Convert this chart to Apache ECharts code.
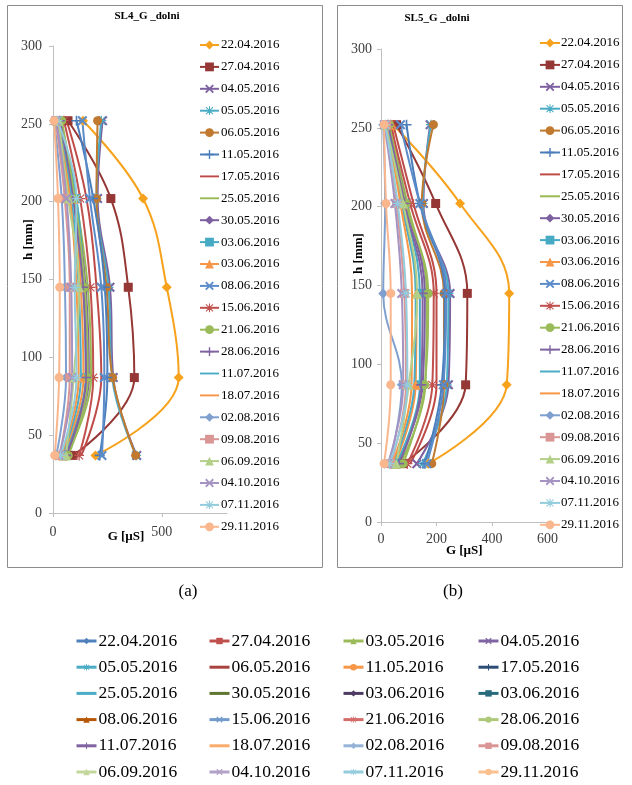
<!DOCTYPE html>
<html>
<head>
<meta charset="utf-8">
<script src="https://cdn.jsdelivr.net/npm/echarts@6/dist/echarts.min.js"></script>
<style>
html,body{margin:0;padding:0;background:#fff}
#c{width:632px;height:785px}
</style>
</head>
<body>
<div id="c"></div>
<script>
var FONT = 'Liberation Serif';

// depth of the measuring points [mm]
var H_MM = [37, 87, 145, 202, 252];

// dates in the legends inside the two charts
var DATES_IN = ['22.04.2016','27.04.2016','04.05.2016','05.05.2016','06.05.2016','11.05.2016','17.05.2016','25.05.2016','30.05.2016','03.06.2016','03.06.2016','08.06.2016','15.06.2016','21.06.2016','28.06.2016','11.07.2016','18.07.2016','02.08.2016','09.08.2016','06.09.2016','04.10.2016','07.11.2016','29.11.2016'];

// dates in the common legend under the charts
var DATES_ALL = ['22.04.2016','27.04.2016','03.05.2016','04.05.2016','05.05.2016','06.05.2016','11.05.2016','17.05.2016','25.05.2016','30.05.2016','03.06.2016','03.06.2016','08.06.2016','15.06.2016','21.06.2016','28.06.2016','11.07.2016','18.07.2016','02.08.2016','09.08.2016','06.09.2016','04.10.2016','07.11.2016','29.11.2016'];

// G [uS] at H_MM, one row per date of DATES_IN  -- SL4 (a)
var G_SL4 = [
  [195, 578, 523, 414, 138],
  [92, 374, 346, 266, 69],
  [385, 277, 262, 205, 228],
  [382, 272, 255, 200, 222],
  [380, 274, 246, 200, 205],
  [215, 250, 238, 185, 108],
  [130, 222, 200, 154, 63],
  [62, 175, 160, 105, 38],
  [55, 165, 150, 100, 30],
  [50, 150, 140, 108, 25],
  [45, 140, 128, 95, 22],
  [225, 236, 222, 170, 135],
  [120, 185, 172, 125, 50],
  [70, 160, 146, 100, 40],
  [60, 152, 138, 92, 32],
  [42, 128, 118, 85, 20],
  [38, 118, 108, 78, 18],
  [15, 60, 55, 40, 5],
  [30, 77, 77, 54, 12],
  [60, 95, 120, 70, 25],
  [28, 88, 84, 62, 15],
  [35, 108, 100, 108, 20],
  [8, 28, 31, 23, 5]
];

// SL5 (b)
var G_SL5 = [
  [170, 453, 462, 285, 44],
  [80, 305, 311, 197, 56],
  [129, 243, 249, 153, 177],
  [150, 237, 243, 150, 180],
  [183, 227, 227, 147, 189],
  [158, 219, 230, 140, 92],
  [105, 200, 200, 117, 44],
  [70, 160, 165, 95, 30],
  [60, 150, 158, 90, 28],
  [55, 140, 140, 85, 25],
  [50, 125, 128, 78, 40],
  [165, 225, 235, 140, 70],
  [95, 185, 190, 105, 35],
  [80, 158, 170, 90, 30],
  [65, 145, 150, 85, 25],
  [45, 120, 125, 75, 20],
  [40, 110, 112, 70, 18],
  [30, 75, 8, 15, 8],
  [35, 90, 84, 56, 20],
  [55, 100, 130, 80, 15],
  [25, 80, 75, 50, 12],
  [30, 95, 90, 60, 15],
  [11, 35, 35, 18, 11]
];

var X_TICKS_A = [0, 500];

// marker shapes
var SYM = {
  diamond: 'diamond',
  square: 'rect',
  circle: 'circle',
  tri: 'triangle',
  none: 'none',
  x: 'path://M1.5,0L5,3.5L8.5,0L10,1.5L6.5,5L10,8.5L8.5,10L5,6.5L1.5,10L0,8.5L3.5,5L0,1.5Z',
  plus: 'path://M4.2,0H5.8V4.2H10V5.8H5.8V10H4.2V5.8H0V4.2H4.2Z',
  star: 'path://M4.4,0H5.6V4.4H10V5.6H5.6V10H4.4V5.6H0V4.4H4.4Z M1.4,0.6L5,4.2L8.6,0.6L9.4,1.4L5.8,5L9.4,8.6L8.6,9.4L5,5.8L1.4,9.4L0.6,8.6L4.2,5L0.6,1.4Z'
};

var IN_COLOR = ['#F7A21C','#953735','#7D60A0','#4BACC6','#C0792F','#4A7EBB','#BE4B48','#98B954','#7D60A0','#46AAC5','#F79646','#5B8BC9','#C0504D','#9BBB59','#8064A2','#4BACC6','#F79646','#7F9FCF','#D99694','#B3CF88','#A593C2','#93CDDD','#FAB68D'];
var IN_SYM = ['diamond','square','x','star','circle','plus','none','none','diamond','square','tri','x','star','circle','plus','none','none','diamond','square','tri','x','star','circle'];

var OUT_COLOR = ['#4F81BD','#C0504D','#9BBB59','#8064A2','#4BACC6','#A9433F','#F79646','#2C4D75','#4BACC6','#5F7530','#4D3B62','#276A7C','#B65708','#729ACA','#D46D6A','#AFC97A','#8064A2','#F9AB6B','#95B3D7','#D99694','#C3D69B','#B3A2C7','#93CDDD','#FAC090'];
var OUT_SYM = ['diamond','square','tri','x','star','none','circle','plus','none','none','diamond','square','tri','x','star','circle','plus','none','diamond','square','tri','x','star','circle'];

var LABEL = {};
var series = [];

function addProfile(prefix, rows, axisIdx) {
  var names = [];
  rows.forEach(function (row, i) {
    var name = prefix + i;
    LABEL[name] = DATES_IN[i];
    names.push(name);
    series.push({
      name: name,
      type: 'line',
      xAxisIndex: axisIdx,
      yAxisIndex: axisIdx,
      smooth: 0.4,
      symbol: SYM[IN_SYM[i]],
      symbolSize: IN_SYM[i] === 'circle' || IN_SYM[i] === 'square' ? 9 : 10,
      itemStyle: { color: IN_COLOR[i] },
      lineStyle: { color: IN_COLOR[i], width: 2 },
      emphasis: { disabled: true },
      data: row.map(function (g, k) { return [g, H_MM[k]]; })
    });
  });
  return names;
}

var namesA = addProfile('a', G_SL4, 0);
var namesB = addProfile('b', G_SL5, 1);

// series used only by the common legend under the charts
var namesC = [];
DATES_ALL.forEach(function (d, i) {
  var name = 'c' + i;
  LABEL[name] = d;
  namesC.push(name);
  series.push({
    name: name, type: 'line', xAxisIndex: 0, yAxisIndex: 0,
    symbol: SYM[OUT_SYM[i]], symbolSize: 6,
    itemStyle: { color: OUT_COLOR[i] },
    lineStyle: { color: OUT_COLOR[i], width: 3 },
    data: []
  });
});

function legendItems(names, syms, bar) {
  return names.map(function (n, i) {
    if (syms[i] === 'none') return { name: n, icon: bar };
    return { name: n };
  });
}

var inA = legendItems(namesA, IN_SYM, 'path://M0,0H20V2H0Z');
var inB = legendItems(namesB, IN_SYM, 'path://M0,0H20V2H0Z');
var outAll = legendItems(namesC, OUT_SYM, 'path://M0,0H20V3H0Z');

var fmt = function (n) { return LABEL[n]; };

var legends = [
  {
    orient: 'vertical', left: 199, top: 38, padding: 0,
    itemWidth: 19, itemHeight: 11, itemGap: 7.9,
    selectedMode: false, formatter: fmt, data: inA,
    lineStyle: { width: 2 },
    textStyle: { fontFamily: FONT, fontSize: 13, lineHeight: 14, color: '#000', padding: [0, 0, 0, -3] }
  },
  {
    orient: 'vertical', left: 539, top: 36, padding: 0,
    itemWidth: 20, itemHeight: 11, itemGap: 7.9,
    selectedMode: false, formatter: fmt, data: inB,
    lineStyle: { width: 2 },
    textStyle: { fontFamily: FONT, fontSize: 13, lineHeight: 14, color: '#000', padding: [0, 0, 0, -4] }
  }
];

var COL_LEFT = [75, 208, 342, 477];
COL_LEFT.forEach(function (x, c) {
  var items = outAll.filter(function (it, i) { return i % 4 === c; });
  legends.push({
    orient: 'vertical', left: x, top: 632, padding: 0,
    itemWidth: 20, itemHeight: 8, itemGap: 8.2,
    selectedMode: false, formatter: fmt, data: items,
    lineStyle: { width: 3 },
    textStyle: { fontFamily: FONT, fontSize: 17.5, lineHeight: 18, color: '#000', padding: [0, 0, 0, -3] }
  });
});

var axisTxt = { fontFamily: FONT, fontSize: 14, color: '#404040' };
var nameTxt = { fontFamily: FONT, fontSize: 13, fontWeight: 'bold', color: '#000' };
var axLine = { show: true, lineStyle: { color: '#BFBFBF', width: 1 } };

var option = {
  animation: false,
  backgroundColor: '#fff',
  grid: [
    { left: 53, top: 46, width: 174, height: 467 },
    { left: 381, top: 49, width: 166.5, height: 473 }
  ],
  xAxis: [
    {
      gridIndex: 0, type: 'value', min: 0, max: 800, interval: 500,
      axisLine: axLine,
      axisTick: { show: true, length: 4, lineStyle: { color: '#BFBFBF' }, customValues: X_TICKS_A },
      axisLabel: Object.assign({ margin: 12, customValues: X_TICKS_A }, axisTxt),
      splitLine: { show: false },
      name: 'G [µS]', nameLocation: 'middle', nameGap: 17, nameMoveOverlap: false,
      nameTextStyle: Object.assign({ padding: [0, 28, 0, 0] }, nameTxt)
    },
    {
      gridIndex: 1, type: 'value', min: 0, max: 600, interval: 200,
      axisLine: axLine,
      axisTick: { show: true, length: 4, lineStyle: { color: '#BFBFBF' } },
      axisLabel: Object.assign({ margin: 10 }, axisTxt),
      splitLine: { show: false },
      name: 'G [µS]', nameLocation: 'middle', nameGap: 22, nameMoveOverlap: false,
      nameTextStyle: nameTxt
    }
  ],
  yAxis: [
    {
      gridIndex: 0, type: 'value', min: 0, max: 300, interval: 50,
      axisLine: axLine,
      axisTick: { show: true, length: 4, lineStyle: { color: '#BFBFBF' } },
      axisLabel: Object.assign({ margin: 11 }, axisTxt),
      splitLine: { show: false },
      name: 'h [mm]', nameLocation: 'middle', nameGap: 18, nameMoveOverlap: false,
      nameTextStyle: Object.assign({ padding: [0, 0, 0, 80] }, nameTxt)
    },
    {
      gridIndex: 1, type: 'value', min: 0, max: 300, interval: 50,
      axisLine: axLine,
      axisTick: { show: true, length: 4, lineStyle: { color: '#BFBFBF' } },
      axisLabel: Object.assign({ margin: 9 }, axisTxt),
      splitLine: { show: false },
      name: 'h [mm]', nameLocation: 'middle', nameGap: 16, nameMoveOverlap: false,
      nameTextStyle: Object.assign({ padding: [0, 0, 0, 64] }, nameTxt)
    }
  ],
  legend: legends,
  graphic: [
    { type: 'rect', shape: { x: 7.5, y: 5.5, width: 315, height: 562 }, style: { fill: 'none', stroke: '#8C8C8C', lineWidth: 1 }, z: -10 },
    { type: 'rect', shape: { x: 337.5, y: 5.5, width: 285, height: 562 }, style: { fill: 'none', stroke: '#8C8C8C', lineWidth: 1 }, z: -10 },
    { type: 'text', x: 147, y: 16, style: { text: 'SL4_G _dolni', fontFamily: FONT, fontSize: 11, fontWeight: 'bold', fill: '#000', align: 'center', verticalAlign: 'middle' } },
    { type: 'text', x: 437, y: 18, style: { text: 'SL5_G _dolni', fontFamily: FONT, fontSize: 11, fontWeight: 'bold', fill: '#000', align: 'center', verticalAlign: 'middle' } },
    { type: 'text', x: 188, y: 592, style: { text: '(a)', fontFamily: FONT, fontSize: 17, fill: '#000', align: 'center', verticalAlign: 'middle' } },
    { type: 'text', x: 453, y: 592, style: { text: '(b)', fontFamily: FONT, fontSize: 17, fill: '#000', align: 'center', verticalAlign: 'middle' } }
  ],
  series: series
};

var chart = echarts.init(document.getElementById('c'));
chart.setOption(option);
</script>
</body>
</html>
